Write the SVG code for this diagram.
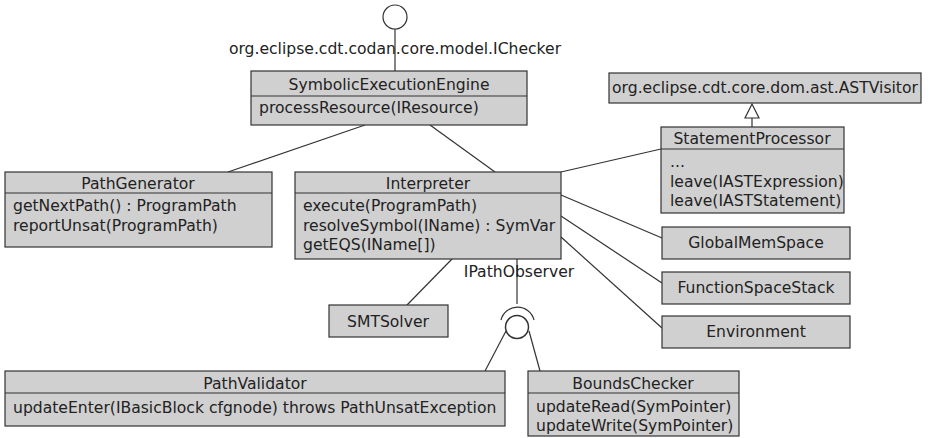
<svg xmlns="http://www.w3.org/2000/svg" width="929" height="438" viewBox="0 0 929 438">
<style>
.box{fill:#d0d0d0;stroke:#333;stroke-width:1.2}
.sep{stroke:#333;stroke-width:1}
.ln{stroke:#333;stroke-width:1.2;fill:none}
text{font-family:"DejaVu Sans",sans-serif;font-size:15.6px;fill:#222}
.c{text-anchor:middle}
</style>
<rect width="929" height="438" fill="#fff"/>
<g id="connectors">
<line class="ln" x1="395" y1="29" x2="395" y2="71"/>
<line class="ln" x1="365" y1="125" x2="228" y2="172"/>
<line class="ln" x1="430" y1="125" x2="495" y2="172"/>
<line class="ln" x1="661" y1="149" x2="561" y2="172"/>
<line class="ln" x1="561" y1="195" x2="662" y2="238"/>
<line class="ln" x1="561" y1="216" x2="662" y2="283"/>
<line class="ln" x1="561" y1="237" x2="662" y2="328"/>
<line class="ln" x1="452" y1="259" x2="407" y2="305"/>
<line class="ln" x1="517" y1="259" x2="517" y2="304"/>
<line class="ln" x1="506" y1="331" x2="485" y2="371"/>
<line class="ln" x1="529" y1="331" x2="540" y2="371"/>
<line class="ln" x1="752" y1="118" x2="752" y2="127"/>
<polygon points="752,104 745,118 759,118" fill="#fff" stroke="#333" stroke-width="1.2"/>
</g>
<g id="IChecker">
<circle cx="395" cy="17" r="12" fill="#fff" stroke="#333" stroke-width="1.2"/>
<text class="c" x="395" y="54">org.eclipse.cdt.codan.core.model.IChecker</text>
</g>
<g id="IPathObserver">
<text class="c" x="519" y="277">IPathObserver</text>
<path class="ln" d="M501,320 A17,17 0 0 1 534,320"/>
<circle cx="517" cy="327" r="11.5" fill="#fff" stroke="#333" stroke-width="1.5"/>
</g>
<g id="SymbolicExecutionEngine">
<rect class="box" x="251" y="71" width="276" height="54"/>
<line class="sep" x1="251" y1="96" x2="527" y2="96"/>
<text class="c" x="389" y="90">SymbolicExecutionEngine</text>
<text x="259" y="113">processResource(IResource)</text>
</g>
<g id="ASTVisitor">
<rect class="box" x="609" y="73" width="312" height="30"/>
<text class="c" x="765" y="93">org.eclipse.cdt.core.dom.ast.ASTVisitor</text>
</g>
<g id="StatementProcessor">
<rect class="box" x="661" y="127" width="183" height="86"/>
<line class="sep" x1="661" y1="149" x2="844" y2="149"/>
<text class="c" x="752" y="144">StatementProcessor</text>
<text x="670" y="167">...</text>
<text x="670" y="187">leave(IASTExpression)</text>
<text x="670" y="206">leave(IASTStatement)</text>
</g>
<g id="PathGenerator">
<rect class="box" x="5" y="172" width="267" height="75"/>
<line class="sep" x1="5" y1="193" x2="272" y2="193"/>
<text class="c" x="138" y="189">PathGenerator</text>
<text x="13" y="211">getNextPath() : ProgramPath</text>
<text x="13" y="231">reportUnsat(ProgramPath)</text>
</g>
<g id="Interpreter">
<rect class="box" x="295" y="172" width="266" height="87"/>
<line class="sep" x1="295" y1="193" x2="561" y2="193"/>
<text class="c" x="428" y="189">Interpreter</text>
<text x="303" y="211">execute(ProgramPath)</text>
<text x="303" y="231">resolveSymbol(IName) : SymVar</text>
<text x="303" y="250">getEQS(IName[])</text>
</g>
<g id="SMTSolver">
<rect class="box" x="329" y="305" width="119" height="32"/>
<text class="c" x="388" y="327">SMTSolver</text>
</g>
<g id="GlobalMemSpace">
<rect class="box" x="662" y="227" width="188" height="32"/>
<text class="c" x="756" y="248">GlobalMemSpace</text>
</g>
<g id="FunctionSpaceStack">
<rect class="box" x="662" y="272" width="188" height="32"/>
<text class="c" x="756" y="293">FunctionSpaceStack</text>
</g>
<g id="Environment">
<rect class="box" x="662" y="316" width="188" height="32"/>
<text class="c" x="756" y="337">Environment</text>
</g>
<g id="PathValidator">
<rect class="box" x="5" y="371" width="500" height="55"/>
<line class="sep" x1="5" y1="393" x2="505" y2="393"/>
<text class="c" x="255" y="389">PathValidator</text>
<text x="13" y="413">updateEnter(IBasicBlock cfgnode) throws PathUnsatException</text>
</g>
<g id="BoundsChecker">
<rect class="box" x="528" y="371" width="211" height="65"/>
<line class="sep" x1="528" y1="393" x2="739" y2="393"/>
<text class="c" x="633" y="389">BoundsChecker</text>
<text x="536" y="412">updateRead(SymPointer)</text>
<text x="536" y="431">updateWrite(SymPointer)</text>
</g>
</svg>
